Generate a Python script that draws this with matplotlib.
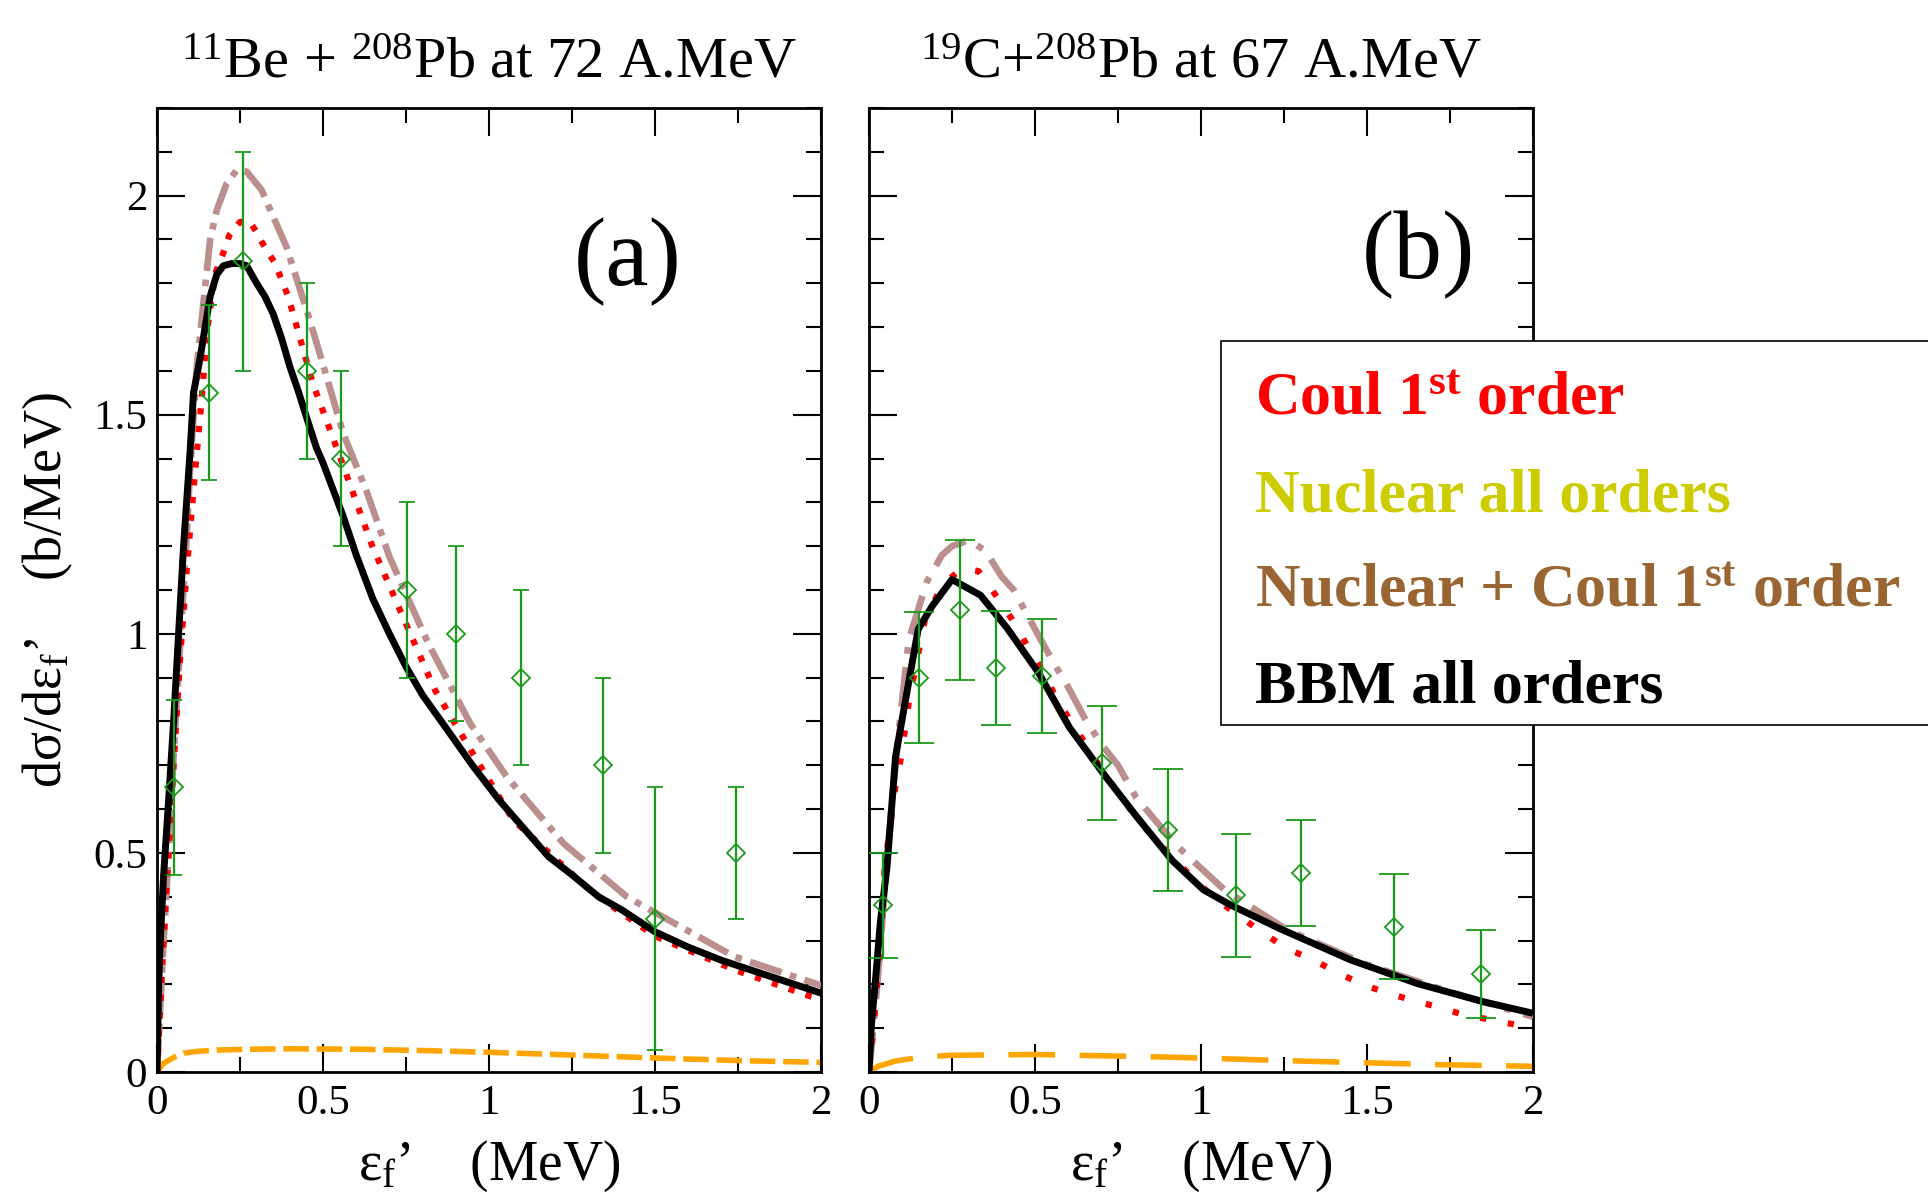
import numpy as np
import matplotlib
matplotlib.use('Agg')
import matplotlib.pyplot as plt
from matplotlib.ticker import MultipleLocator, FuncFormatter
from matplotlib.patches import Rectangle

plt.rcParams['font.family'] = ['Liberation Serif', 'DejaVu Serif']
plt.rcParams['mathtext.fontset'] = 'custom'
plt.rcParams['mathtext.rm'] = 'Liberation Serif'
plt.rcParams['mathtext.it'] = 'Liberation Serif:italic'
plt.rcParams['mathtext.bf'] = 'Liberation Serif:bold'

# ---------------- Panel (a): 11Be + 208Pb at 72 A.MeV ----------------
a_bbm_x = [0, 0.005, 0.01, 0.02, 0.035, 0.05, 0.065, 0.08, 0.1, 0.11, 0.13, 0.16, 0.18, 0.2,
           0.225, 0.25, 0.27, 0.3, 0.325, 0.35, 0.375, 0.4, 0.425, 0.45, 0.48, 0.5, 0.53,
           0.56, 0.6, 0.65, 0.7, 0.75, 0.8, 0.88, 0.95, 1.03, 1.1, 1.18, 1.25, 1.33, 1.4,
           1.5, 1.6, 1.7, 1.8, 1.9, 2.0]
a_bbm_y = [0, 0.2, 0.3, 0.45, 0.62, 0.8, 1.0, 1.2, 1.42, 1.55, 1.63, 1.77, 1.82, 1.84,
           1.845, 1.845, 1.84, 1.80, 1.77, 1.73, 1.675, 1.61, 1.555, 1.495, 1.425, 1.39,
           1.33, 1.27, 1.18, 1.08, 1.0, 0.925, 0.86, 0.775, 0.70, 0.621, 0.56, 0.491, 0.45,
           0.40, 0.37, 0.32, 0.285, 0.255, 0.23, 0.205, 0.18]

a_coul_x = [0, 0.01, 0.02, 0.035, 0.05, 0.07, 0.09, 0.11, 0.135, 0.15, 0.165, 0.178, 0.2,
            0.218, 0.25, 0.28, 0.302, 0.328, 0.355, 0.395, 0.47, 0.551, 0.647, 0.732, 0.837,
            0.963, 1.073, 1.204, 1.314, 1.5, 1.74, 1.97, 2.0]
a_coul_y = [0, 0.15, 0.3, 0.5, 0.7, 0.95, 1.15, 1.33, 1.54, 1.686, 1.77, 1.827, 1.87, 1.91,
            1.94, 1.94, 1.914, 1.877, 1.847, 1.77, 1.57, 1.404, 1.203, 1.054, 0.872, 0.712,
            0.575, 0.484, 0.408, 0.31, 0.233, 0.172, 0.166]

a_nc_x = [0, 0.01, 0.02, 0.035, 0.05, 0.07, 0.09, 0.1, 0.12, 0.135, 0.16, 0.18, 0.21, 0.24,
          0.27, 0.315, 0.35, 0.39, 0.46, 0.496, 0.561, 0.63, 0.7, 0.817, 0.943, 1.053, 1.224,
          1.415, 1.495, 1.74, 1.99, 2.0]
a_nc_y = [0, 0.15, 0.3, 0.5, 0.72, 0.98, 1.23, 1.38, 1.61, 1.72, 1.90, 1.967, 2.028, 2.058,
          2.055, 2.013, 1.952, 1.883, 1.716, 1.625, 1.457, 1.328, 1.176, 0.978, 0.796, 0.674,
          0.522, 0.40, 0.366, 0.263, 0.2, 0.198]

a_nuc_x = [0, 0.02, 0.05, 0.08, 0.12, 0.18, 0.28, 0.4, 0.6, 0.8, 1.0, 1.2, 1.5, 1.75, 2.0]
a_nuc_y = [0, 0.02, 0.033, 0.043, 0.047, 0.05, 0.052, 0.053, 0.052, 0.049, 0.045, 0.04,
           0.032, 0.026, 0.022]

a_exp_x = [0.05, 0.158, 0.26, 0.451, 0.554, 0.752, 0.9, 1.096, 1.342, 1.5, 1.744]
a_exp_y = [0.65, 1.55, 1.85, 1.6, 1.4, 1.1, 1.0, 0.9, 0.7, 0.35, 0.5]
a_exp_err = [0.2, 0.2, 0.25, 0.2, 0.2, 0.2, 0.2, 0.2, 0.2, 0.3, 0.15]

# ---------------- Panel (b): 19C + 208Pb at 67 A.MeV ----------------
b_bbm_x = [0, 0.007, 0.02, 0.034, 0.054, 0.08, 0.107, 0.148, 0.19, 0.25, 0.336, 0.416, 0.51,
           0.604, 0.711, 0.805, 0.913, 1.007, 1.087, 1.235, 1.45, 1.651, 1.852, 2.0]
b_bbm_y = [0, 0.105, 0.214, 0.34, 0.466, 0.72, 0.836, 1.01, 1.063, 1.124, 1.088, 1.013, 0.912,
           0.786, 0.676, 0.584, 0.483, 0.416, 0.382, 0.328, 0.256, 0.202, 0.16, 0.134]

b_coul_x = [0, 0.013, 0.034, 0.047, 0.06, 0.08, 0.097, 0.12, 0.168, 0.22, 0.28, 0.33, 0.38,
            0.43, 0.477, 0.523, 0.564, 0.61, 0.66, 0.709, 0.765, 0.824, 0.893, 0.966, 1.04,
            1.114, 1.19, 1.264, 1.34, 1.42, 1.497, 1.57, 1.646, 1.72, 1.793, 1.868, 1.94, 2.0]
b_coul_y = [0, 0.1, 0.28, 0.466, 0.54, 0.655, 0.72, 0.845, 1.03, 1.11, 1.15, 1.143, 1.09,
            1.034, 0.972, 0.916, 0.853, 0.798, 0.74, 0.68, 0.622, 0.563, 0.507, 0.45, 0.397,
            0.357, 0.315, 0.28, 0.255, 0.223, 0.197, 0.178, 0.162, 0.147, 0.13, 0.12, 0.109, 0.1]

b_nc_x = [0, 0.013, 0.034, 0.05, 0.07, 0.09, 0.12, 0.148, 0.175, 0.22, 0.25, 0.3, 0.35, 0.4,
          0.436, 0.517, 0.57, 0.6, 0.65, 0.7, 0.75, 0.805, 0.926, 1.07, 1.26, 1.5, 1.72, 2.0]
b_nc_y = [0, 0.1, 0.28, 0.45, 0.62, 0.78, 0.987, 1.055, 1.12, 1.18, 1.20, 1.214, 1.19, 1.13,
          1.10, 0.987, 0.916, 0.878, 0.807, 0.748, 0.70, 0.626, 0.517, 0.416, 0.324, 0.245,
          0.19, 0.126]

b_nuc_x = [0, 0.027, 0.08, 0.15, 0.24, 0.5, 0.9, 1.3, 1.7, 2.0]
b_nuc_y = [0, 0.013, 0.025, 0.033, 0.038, 0.04, 0.034, 0.025, 0.017, 0.013]

b_exp_x = [0.043, 0.152, 0.275, 0.383, 0.52, 0.702, 0.9, 1.105, 1.3, 1.58, 1.843]
b_exp_y = [0.38, 0.90, 1.055, 0.922, 0.903, 0.706, 0.552, 0.403, 0.454, 0.332, 0.223]
b_exp_err = [0.12, 0.15, 0.16, 0.13, 0.13, 0.13, 0.14, 0.14, 0.12, 0.12, 0.1]

titles = [r"$^{11}$Be + $^{208}$Pb at 72 A.MeV", r"$^{19}$C+$^{208}$Pb at 67 A.MeV"]
panel_labels = ["(a)", "(b)"]
legend_labels = [r"Coul 1$^{\mathbf{st}}$ order", "Nuclear all orders",
                 r"Nuclear + Coul 1$^{\mathbf{st}}$ order", "BBM all orders"]
legend_colors = ['#ff0000', '#cccc00', '#996633', '#000000']
xticks = [0, 0.5, 1, 1.5, 2]
yticks = [0, 0.5, 1, 1.5, 2]

RED = '#ff0000'
BROWN = '#bc8f8f'
ORANGE = '#ffa500'
GREEN = '#1a9a1a'

W, H = 1928, 1198
fig = plt.figure(figsize=(W / 100, H / 100), dpi=100)
pos_a = [157 / W, 1 - 1072 / H, 664 / W, 964 / H]
pos_b = [869 / W, 1 - 1072 / H, 664 / W, 964 / H]
axA = fig.add_axes(pos_a)
axB = fig.add_axes(pos_b)

fmt = FuncFormatter(lambda v, p: f"{v:g}")

panels = [
    (axA, a_coul_x, a_coul_y, a_nc_x, a_nc_y, a_nuc_x, a_nuc_y, a_bbm_x, a_bbm_y,
     a_exp_x, a_exp_y, a_exp_err, dict(cap=6, red=(1, 1.85), brown=(5, 1.3, 1, 1.3),
                                       orange=(4.6, 1.4), px=0.709, py=0.84)),
    (axB, b_coul_x, b_coul_y, b_nc_x, b_nc_y, b_nuc_x, b_nuc_y, b_bbm_x, b_bbm_y,
     b_exp_x, b_exp_y, b_exp_err, dict(cap=10.5, red=(1, 3.5), brown=(6, 2, 1, 2),
                                       orange=(8.4, 4.4), px=0.828, py=0.8475)),
]

for i, (ax, cx, cy, ncx, ncy, nx, ny, bx, by, ex, ey, ee, st) in enumerate(panels):
    ax.plot(nx, ny, color=ORANGE, lw=4.0, dashes=st['orange'], dash_capstyle='butt', zorder=2)
    ax.plot(ncx, ncy, color=BROWN, lw=4.8, dashes=st['brown'], dash_capstyle='butt', zorder=3)
    ax.plot(cx, cy, color=RED, lw=4.5, dashes=st['red'], dash_capstyle='butt', zorder=4)
    ax.plot(bx, by, color='black', lw=5.0, solid_capstyle='butt', solid_joinstyle='round',
            zorder=5)
    ax.errorbar(ex, ey, yerr=ee, fmt='D', mfc='none', mec=GREEN, ms=9, mew=1.3,
                ecolor=GREEN, elinewidth=1.6, capsize=st['cap'], capthick=1.6, zorder=6)

    ax.set_xlim(0, 2)
    ax.set_ylim(0, 2.2)
    ax.set_xticks(xticks)
    ax.set_yticks(yticks)
    ax.xaxis.set_minor_locator(MultipleLocator(0.25))
    ax.yaxis.set_minor_locator(MultipleLocator(0.1))
    ax.xaxis.set_major_formatter(fmt)
    ax.yaxis.set_major_formatter(fmt)
    ax.tick_params(which='both', direction='in', top=True, right=True, width=1.5,
                   labelsize=31, color='black')
    ax.tick_params(which='major', length=20)
    ax.tick_params(which='minor', length=11)
    ax.tick_params(axis='x', pad=9)
    ax.tick_params(axis='y', pad=7)
    for sp in ax.spines.values():
        sp.set_linewidth(2.0)
    if i == 1:
        ax.tick_params(axis='y', labelleft=False)

    ax.text(0.5, 1 + 30 / 964, titles[i], transform=ax.transAxes, ha='center',
            va='baseline', fontsize=42)
    ax.text(st['px'], st['py'], panel_labels[i], transform=ax.transAxes, ha='center',
            va='center', fontsize=70)
    ax.text(0.5, -108 / 964, "ε$_{\\rm f}$’    (MeV)", transform=ax.transAxes,
            ha='center', va='baseline', fontsize=40)

axA.text(-0.165, 0.5, "dσ/dε$_{\\rm f}$’    (b/MeV)", transform=axA.transAxes,
         rotation=90, ha='center', va='center', fontsize=39)

# legend box (framed text block overlapping panel b, running off the right edge)
rect = Rectangle((1221 / W, 1 - 725 / H), 1.0, (725 - 341) / H, transform=fig.transFigure,
                 facecolor='white', edgecolor='black', lw=1.2, zorder=10)
fig.patches.append(rect)
baselines = [415, 511, 606.7, 702.7]
for lab, col, yb in zip(legend_labels, legend_colors, baselines):
    fig.text(1255 / W, 1 - yb / H, lab, color=col, fontsize=44.5, fontweight='bold',
             ha='left', va='baseline', zorder=11)

fig.savefig('out.png', dpi=100)
